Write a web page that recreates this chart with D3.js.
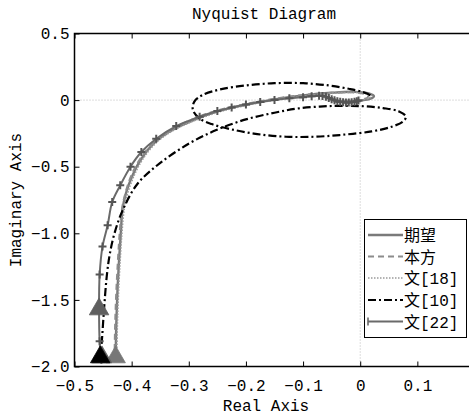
<!DOCTYPE html>
<html>
<head>
<meta charset="utf-8">
<script src="https://cdn.jsdelivr.net/npm/d3@7"></script>
<style>
  html, body { margin: 0; padding: 0; background: #fff; }
  svg { display: block; }
</style>
</head>
<body>
<svg id="chart" width="469" height="416"></svg>
<script>
// Nyquist curves: [real, imag] pairs for each controller
const desired = [[-0.428,-1.95],[-0.427,-1.7],[-0.425,-1.45],[-0.422,-1.2],[-0.419,-1.0],[-0.416,-0.82],[-0.41,-0.7],[-0.398,-0.56],[-0.383,-0.44],[-0.36,-0.32],[-0.335,-0.24],[-0.3,-0.165],[-0.25,-0.085],[-0.2,-0.035],[-0.15,0.005],[-0.1,0.035],[-0.05,0.055],[-0.01,0.062],[0.015,0.05],[0.024,0.03],[0.018,0.01],[0.0,-0.004],[-0.02,-0.01],[-0.045,-0.01]];
const proposed = [[-0.43,-1.95],[-0.429,-1.7],[-0.427,-1.45],[-0.424,-1.2],[-0.421,-1.0],[-0.417,-0.82],[-0.411,-0.7],[-0.4,-0.56],[-0.385,-0.44],[-0.362,-0.32],[-0.337,-0.24],[-0.302,-0.16],[-0.252,-0.08],[-0.2,-0.03],[-0.15,0.01],[-0.1,0.038],[-0.05,0.055],[-0.015,0.058],[0.008,0.045],[0.014,0.025],[0.006,0.008],[-0.012,-0.003],[-0.035,-0.006]];
const ref18 = [[-0.426,-1.95],[-0.425,-1.7],[-0.423,-1.45],[-0.42,-1.2],[-0.417,-1.0],[-0.413,-0.82],[-0.407,-0.7],[-0.395,-0.56],[-0.38,-0.44],[-0.357,-0.32],[-0.332,-0.24],[-0.298,-0.168],[-0.248,-0.09],[-0.2,-0.04],[-0.15,0.0],[-0.1,0.03],[-0.05,0.05],[-0.01,0.058],[0.012,0.048],[0.02,0.03],[0.014,0.012],[-0.002,0.0],[-0.025,-0.008]];
const ref10 = [[-0.455,-1.95],[-0.452,-1.8],[-0.448,-1.55],[-0.443,-1.3],[-0.438,-1.15],[-0.43,-1.0],[-0.416,-0.83],[-0.39,-0.63],[-0.351,-0.475],[-0.299,-0.325],[-0.252,-0.225],[-0.2,-0.145],[-0.15,-0.095],[-0.107,-0.062],[-0.054,-0.045],[0.0,-0.045],[0.04,-0.06],[0.068,-0.085],[0.08,-0.125],[0.075,-0.16],[0.055,-0.2],[0.02,-0.235],[-0.03,-0.26],[-0.08,-0.275],[-0.13,-0.275],[-0.18,-0.255],[-0.225,-0.22],[-0.26,-0.18],[-0.282,-0.135],[-0.293,-0.07],[-0.29,-0.01],[-0.275,0.04],[-0.245,0.08],[-0.2,0.11],[-0.15,0.127],[-0.1,0.127],[-0.055,0.11],[-0.02,0.085],[0.005,0.06],[0.018,0.035],[0.02,0.025]];
const ref22 = [[-0.453,-1.95],[-0.456,-1.81],[-0.457,-1.57],[-0.456,-1.31],[-0.451,-1.10],[-0.442,-0.94],[-0.434,-0.765],[-0.420,-0.64],[-0.402,-0.50],[-0.383,-0.39],[-0.357,-0.29],[-0.322,-0.195],[-0.281,-0.125],[-0.25,-0.082],[-0.225,-0.055],[-0.2,-0.033],[-0.175,-0.015],[-0.15,0.0],[-0.124,0.013],[-0.1,0.022],[-0.085,0.028],[-0.072,0.032],[-0.066,0.03],[-0.06,0.025],[-0.055,0.015],[-0.05,0.006],[-0.045,-0.002],[-0.04,-0.008],[-0.035,-0.013],[-0.03,-0.016],[-0.025,-0.018],[-0.02,-0.018],[-0.015,-0.016],[-0.01,-0.013],[-0.006,-0.008],[-0.003,-0.003]];

// direction arrows (low-frequency end)
const arrows22 = [[-0.457,-1.57],[-0.452,-1.93]];
const arrows10 = [[-0.455,-1.93]];
const arrowsDesired = [[-0.428,-1.93]];

const seriesNames = ["期望", "本方", "文[18]", "文[10]", "文[22]"];
const xTicks = [-0.5, -0.4, -0.3, -0.2, -0.1, 0, 0.1];
const xTickLabels = ["−0.5", "−0.4", "−0.3", "−0.2", "−0.1", "0", "0.1"];
const yTicks = [0.5, 0, -0.5, -1.0, -1.5, -2.0];
const yTickLabels = ["0.5", "0", "−0.5", "−1.0", "−1.5", "−2.0"];

const svg = d3.select("#chart");
const monoFont = "'Liberation Mono', 'DejaVu Sans Mono', monospace";
const cjkFont = "'Liberation Mono', 'Noto Sans CJK SC', sans-serif";

const plotL = 74.5, plotR = 474.5, plotT = 33.5, plotB = 366.5;
const x = d3.scaleLinear().domain([-0.5, 0.2]).range([plotL, plotR]);
const y = d3.scaleLinear().domain([-2, 0.5]).range([plotB, plotT]);

svg.append("defs").append("clipPath").attr("id", "plot-clip")
  .append("rect").attr("x", plotL).attr("y", plotT).attr("width", plotR - plotL).attr("height", plotB - plotT);

// zero reference lines
const plot = svg.append("g");
plot.append("line").attr("x1", plotL).attr("x2", plotR).attr("y1", y(0)).attr("y2", y(0))
  .attr("stroke", "#bbb").attr("stroke-width", 1).attr("stroke-dasharray", "1,2");
plot.append("line").attr("x1", x(0)).attr("x2", x(0)).attr("y1", plotT).attr("y2", plotB)
  .attr("stroke", "#bbb").attr("stroke-width", 1).attr("stroke-dasharray", "1,2");

// axes with inward ticks
const axisStyle = g => {
  g.select(".domain").remove();
  g.selectAll(".tick line").attr("stroke", "#000").attr("stroke-width", 1);
  g.selectAll(".tick text").attr("font-family", monoFont).attr("font-size", 16).attr("fill", "#000");
};
svg.append("g").attr("transform", `translate(0,${plotB})`)
  .call(d3.axisBottom(x).tickValues(xTicks).tickFormat((d, i) => xTickLabels[i]).tickSize(-5).tickPadding(13))
  .call(axisStyle);
svg.append("g").attr("transform", `translate(0,${plotT})`)
  .call(d3.axisTop(x).tickValues(xTicks).tickFormat("").tickSize(-5))
  .call(axisStyle);
svg.append("g").attr("transform", `translate(${plotL},0)`)
  .call(d3.axisLeft(y).tickValues(yTicks).tickFormat((d, i) => yTickLabels[i]).tickSize(-5).tickPadding(5))
  .call(axisStyle);
svg.append("g").attr("transform", `translate(${plotR},0)`)
  .call(d3.axisRight(y).tickValues(yTicks).tickFormat("").tickSize(-5))
  .call(axisStyle);
svg.append("rect").attr("x", plotL).attr("y", plotT).attr("width", plotR - plotL).attr("height", plotB - plotT)
  .attr("fill", "none").attr("stroke", "#000").attr("stroke-width", 1.5);

// curves
const line = d3.line().x(d => x(d[0])).y(d => y(d[1])).curve(d3.curveCatmullRom.alpha(0.5));
const curves = svg.append("g").attr("clip-path", "url(#plot-clip)");
const styles = [
  { data: desired,  color: "#7a7a7a", width: 2.4, dash: null },
  { data: proposed, color: "#8c8c8c", width: 2,   dash: "6,4" },
  { data: ref18,    color: "#9a9a9a", width: 1.6, dash: "1.5,1.5" },
  { data: ref10,    color: "#000",    width: 2.2, dash: "8,3,2,3" },
  { data: ref22,    color: "#6a6a6a", width: 2,   dash: null }
];
styles.forEach(s => {
  curves.append("path").attr("d", line(s.data)).attr("fill", "none")
    .attr("stroke", s.color).attr("stroke-width", s.width)
    .attr("stroke-dasharray", s.dash).attr("stroke-linejoin", "round");
});

// plus markers on the 文[22] curve
const plusShape = { draw(ctx) { const r = 4; ctx.moveTo(-r, 0); ctx.lineTo(r, 0); ctx.moveTo(0, -r); ctx.lineTo(0, r); } };
curves.append("g").selectAll("path").data(ref22).join("path")
  .attr("transform", d => `translate(${x(d[0])},${y(d[1])})`)
  .attr("d", d3.symbol().type(plusShape).size(1)())
  .attr("stroke", "#555").attr("stroke-width", 2).attr("fill", "none");

// arrow triangles
const tri = d3.symbol().type(d3.symbolTriangle).size(165)();
const drawArrows = (pts, color) => curves.append("g").selectAll("path").data(pts).join("path")
  .attr("transform", d => `translate(${x(d[0])},${y(d[1])})`)
  .attr("d", tri).attr("fill", color).attr("stroke", color).attr("stroke-width", 0.8);
drawArrows(arrowsDesired, "#777");
drawArrows(arrows22, "#5f5f5f");
drawArrows(arrows10, "#000");

// titles
svg.append("text").attr("x", 264).attr("y", 19).attr("text-anchor", "middle")
  .attr("font-family", monoFont).attr("font-size", 16).text("Nyquist Diagram");
svg.append("text").attr("x", 266).attr("y", 411).attr("text-anchor", "middle")
  .attr("font-family", monoFont).attr("font-size", 16).text("Real Axis");
svg.append("text").attr("transform", "translate(21,200) rotate(-90)").attr("text-anchor", "middle")
  .attr("font-family", monoFont).attr("font-size", 16).text("Imaginary Axis");

// legend
const lg = svg.append("g");
lg.append("rect").attr("x", 364.5).attr("y", 219.5).attr("width", 102).attr("height", 118)
  .attr("fill", "#fff").attr("stroke", "#000").attr("stroke-width", 1);
const rowY = [235, 256.5, 278, 300, 321.5];
seriesNames.forEach((name, i) => {
  const s = styles[i], yy = rowY[i];
  lg.append("line").attr("x1", 368).attr("x2", 403).attr("y1", yy).attr("y2", yy)
    .attr("stroke", s.color).attr("stroke-width", s.width).attr("stroke-dasharray", s.dash);
  if (i === 4) {
    lg.append("line").attr("x1", 368).attr("x2", 368).attr("y1", yy - 4).attr("y2", yy + 4)
      .attr("stroke", s.color).attr("stroke-width", 1.6);
  }
  lg.append("text").attr("x", 404).attr("y", yy + 6).attr("font-family", cjkFont)
    .attr("font-size", 16).attr("fill", "#000").text(name);
});
</script>
</body>
</html>
